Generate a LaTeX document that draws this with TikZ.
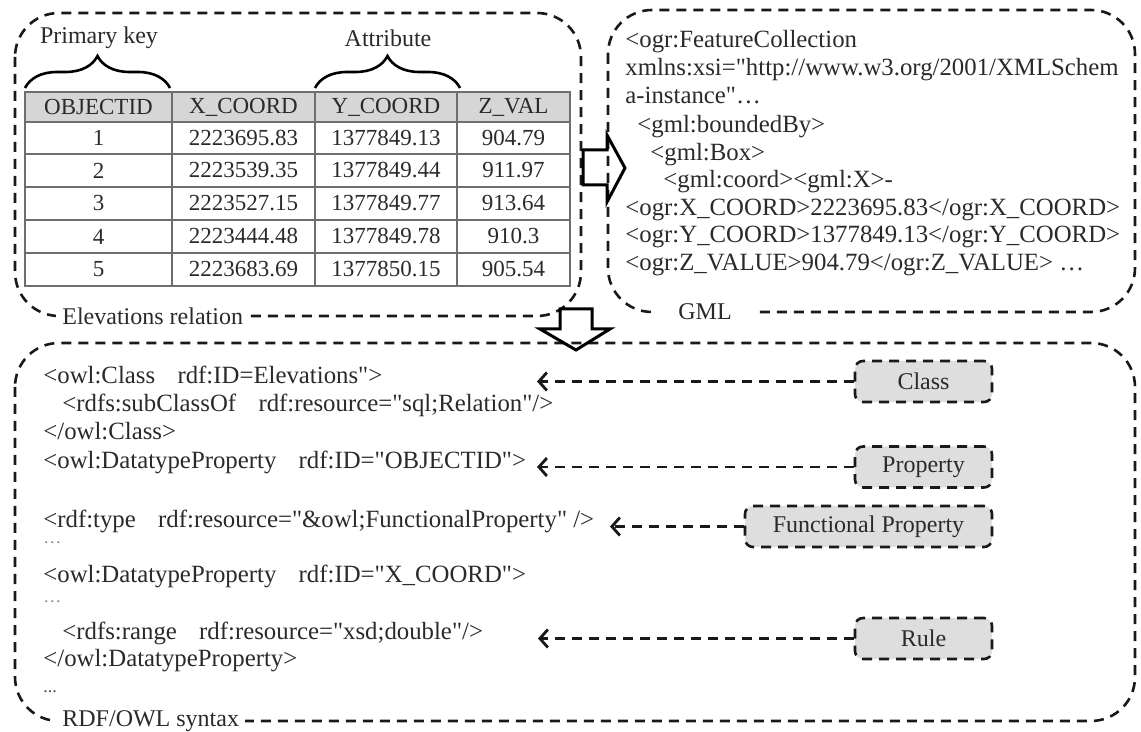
\documentclass[tikz,border=0pt]{standalone}
\usepackage{fontspec}
\setmainfont{Liberation Serif}[Ligatures=TeXOff]
\usetikzlibrary{arrows.meta,decorations.pathreplacing}
\definecolor{ink}{HTML}{2A2A2A}
\definecolor{tabline}{HTML}{6E6E6E}
\definecolor{headfill}{HTML}{D6D6D6}
\definecolor{tagfill}{HTML}{DEDEDE}
\begin{document}
\begin{tikzpicture}[x=0.5pt,y=-0.5pt,
  dbox/.style={draw=black!90, line width=1.3pt, dash pattern=on 5pt off 3.5pt, rounded corners=22pt},
  framelabel/.style={fill=white, inner xsep=3pt, inner ysep=1pt, text=ink, font=\fontsize{12pt}{14pt}\selectfont},
  lbl/.style={text=ink, font=\fontsize{12pt}{14pt}\selectfont},
  tabtxt/.style={text=ink, font=\fontsize{11.5pt}{13pt}\selectfont, inner sep=0pt},
  gml/.style={anchor=west, text=ink, inner sep=0pt, text height=8pt, text depth=2.5pt, font=\fontsize{12.4pt}{14pt}\selectfont},
  owl/.style={anchor=west, text=ink, inner sep=0pt, text height=8pt, text depth=2.5pt, font=\fontsize{12.4pt}{14pt}\selectfont},
  dots/.style={anchor=west, text=black!45, inner sep=0pt, font=\fontsize{9pt}{10pt}\selectfont},
  tag/.style={draw=black!90, fill=tagfill, line width=1.3pt, dash pattern=on 5pt off 3.5pt, rounded corners=4pt, text=ink, font=\fontsize{12pt}{14pt}\selectfont, inner sep=0pt, minimum height=20.5pt},
  conn/.style={draw=black!90, line width=1.3pt, dash pattern=on 5pt off 3.5pt, -{Straight Barb[length=4pt,width=9pt,line width=1.4pt]}},
  blk/.style={draw=black, line width=1.5pt, line join=miter},
  brc/.style={draw=black, line width=1.3pt, decorate, decoration={brace, amplitude=16pt, aspect=0.5}}
]
\useasboundingbox (0,0) rectangle (1141,732);

% ---------- frames ----------
\draw[dbox] (15,13) rectangle (581,316);
\draw[dbox] (608,10) rectangle (1135,312);
\draw[dbox] (15,343) rectangle (1135,721);

\node[framelabel, anchor=west] (elev) at (56,316) {Elevations relation};
\node[framelabel, minimum width=50pt] (gmllbl) at (705,312) {GML};
\node[framelabel, anchor=west] (rdflbl) at (56,721) {RDF/OWL syntax};

% ---------- table ----------
\fill[headfill] (25,92) rectangle (570,122);
\draw[tabline, line width=0.8pt] (25,92) rectangle (570,286);
\foreach \yy in {122,154,187,220,253} \draw[tabline, line width=0.8pt] (25,\yy) -- (570,\yy);
\foreach \xx in {172,315,457} \draw[tabline, line width=0.8pt] (\xx,92) -- (\xx,286);

\node[tabtxt] (h1) at (98.5,107) {OBJECTID};
\node[tabtxt] (h2) at (243.5,107) {X\_COORD};
\node[tabtxt] (h3) at (386,107) {Y\_COORD};
\node[tabtxt] (h4) at (513.5,107) {Z\_VAL};

\node[tabtxt] (a1) at (98.5,138) {1};
\node[tabtxt] (b1) at (243.5,138) {2223695.83};
\node[tabtxt] (c1) at (386,138) {1377849.13};
\node[tabtxt] (d1) at (513.5,138) {904.79};

\node[tabtxt] (a2) at (98.5,170.5) {2};
\node[tabtxt] (b2) at (243.5,170.5) {2223539.35};
\node[tabtxt] (c2) at (386,170.5) {1377849.44};
\node[tabtxt] (d2) at (513.5,170.5) {911.97};

\node[tabtxt] (a3) at (98.5,203.5) {3};
\node[tabtxt] (b3) at (243.5,203.5) {2223527.15};
\node[tabtxt] (c3) at (386,203.5) {1377849.77};
\node[tabtxt] (d3) at (513.5,203.5) {913.64};

\node[tabtxt] (a4) at (98.5,236.5) {4};
\node[tabtxt] (b4) at (243.5,236.5) {2223444.48};
\node[tabtxt] (c4) at (386,236.5) {1377849.78};
\node[tabtxt] (d4) at (513.5,236.5) {910.3};

\node[tabtxt] (a5) at (98.5,269.5) {5};
\node[tabtxt] (b5) at (243.5,269.5) {2223683.69};
\node[tabtxt] (c5) at (386,269.5) {1377850.15};
\node[tabtxt] (d5) at (513.5,269.5) {905.54};

% braces and labels
\draw[brc] (25,88) -- (170,88);
\draw[brc] (315,88) -- (460,88);
\node[lbl] (pk) at (99,38) {Primary key};
\node[lbl] (attr) at (388,38) {Attribute};

% ---------- block arrows ----------
\draw[blk] (583,150) -- (607,150) -- (607,135) -- (625,168) -- (607,202) -- (607,185) -- (583,185) -- cycle;
\draw[blk] (560,309) -- (592,309) -- (592,329) -- (610,329) -- (576,350) -- (540,329) -- (560,329) -- cycle;

% ---------- GML code ----------
\node[gml] (g1) at (625,42) {<ogr:FeatureCollection};
\node[gml] (g2) at (625,70) {xmlns:xsi="http://www.w3.org/2001/XMLSchem};
\node[gml] (g3) at (625,98) {a-instance"…};
\node[gml] (g4) at (637,127) {<gml:boundedBy>};
\node[gml] (g5) at (650,155) {<gml:Box>};
\node[gml] (g6) at (663,182) {<gml:coord><gml:X>-};
\node[gml] (g7) at (625,210) {<ogr:X\_COORD>2223695.83</ogr:X\_COORD>};
\node[gml] (g8) at (625,237) {<ogr:Y\_COORD>1377849.13</ogr:Y\_COORD>};
\node[gml] (g9) at (625,265) {<ogr:Z\_VALUE>904.79</ogr:Z\_VALUE> …};

% ---------- RDF/OWL code ----------
\node[owl] (o1) at (43,378) {<owl:Class\hspace{0.9em}rdf:ID=Elevations">};
\node[owl] (o2) at (62,406) {<rdfs:subClassOf\hspace{0.9em}rdf:resource="sql;Relation"/>};
\node[owl] (o3) at (43,434) {</owl:Class>};
\node[owl] (o4) at (43,463) {<owl:DatatypeProperty\hspace{0.9em}rdf:ID="OBJECTID">};
\node[owl] (o5) at (43,522) {<rdf:type\hspace{0.9em}rdf:resource="\&owl;FunctionalProperty" />};
\node[dots] (o6) at (43,543) {…};
\node[owl] (o7) at (43,577) {<owl:DatatypeProperty\hspace{0.9em}rdf:ID="X\_COORD">};
\node[dots] (o8) at (43,602) {…};
\node[owl] (o9) at (62,634) {<rdfs:range\hspace{0.9em}rdf:resource="xsd;double"/>};
\node[owl] (o10) at (43,661) {</owl:DatatypeProperty>};
\node[dots, text=black!70] (o11) at (43,692) {...};

% ---------- tags and connectors ----------
\node[tag, minimum width=68.5pt] (tclass) at (923.5,381.5) {Class};
\node[tag, minimum width=68.5pt] (tprop) at (923.5,467) {Property};
\node[tag, minimum width=123.5pt] (tfp) at (868.5,526.5) {Functional Property};
\node[tag, minimum width=68.5pt] (trule) at (923.5,638.5) {Rule};

\coordinate (eclass) at (537,381.5);
\coordinate (eprop) at (537,467);
\coordinate (efp) at (610,526.5);
\coordinate (erule) at (538,638.5);

\draw[conn] (tclass.west) -- (eclass);
\draw[conn] (tprop.west) -- (eprop);
\draw[conn] (tfp.west) -- (efp);
\draw[conn] (trule.west) -- (erule);
\end{tikzpicture}
\end{document}
